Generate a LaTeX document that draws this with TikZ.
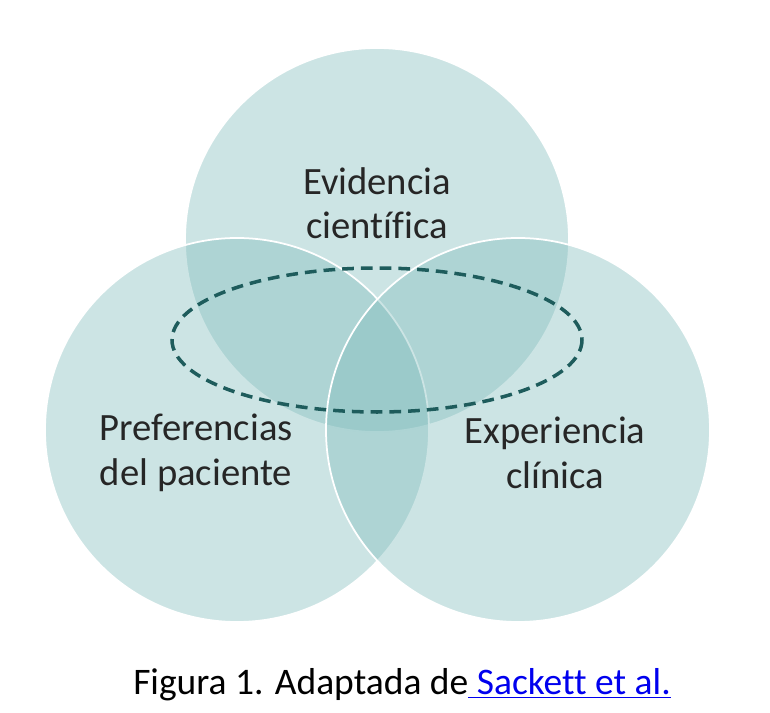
\documentclass[tikz,border=0pt]{standalone}
\usepackage{fontspec}
\setmainfont[Ligatures=NoCommon]{Carlito}
\definecolor{venn}{RGB}{128,188,188}
\definecolor{ringline}{RGB}{30,92,92}
\definecolor{linkblue}{RGB}{0,0,238}
\tikzset{
  setcircle/.style={circle, minimum size=11.52cm, fill=venn, fill opacity=0.4, draw=white, line width=1.5pt, inner sep=0pt},
  settext/.style={align=center, font=\fontsize{33}{38}\selectfont, text=black!85}
}
\begin{document}
\begin{tikzpicture}[x=0.03cm,y=-0.03cm]
	\useasboundingbox (0,0) rectangle (770,713);
	\node[setcircle] (evid) at (377,240) {};
	\node[setcircle] (pref) at (237,430) {};
	\node[setcircle] (expe) at (518,430) {};
	\draw[ringline, line width=3pt, dash pattern=on 10pt off 6pt] (377,340) ellipse [x radius=205, y radius=72];
	\node[settext] (evidt) at (377,203) {Evidencia\\científica};
	\node[settext] (preft) at (196,453) {Preferencias\\del paciente};
	\node[settext] (expet) at (555,453) {Experiencia\\clínica};
	\node[font=\fontsize{32}{36}\selectfont, anchor=base] (caption) at (402,695) {Figura 1. Adaptada de\textcolor{linkblue}{\underline{ Sackett et al.}}};
\end{tikzpicture}
\end{document}
